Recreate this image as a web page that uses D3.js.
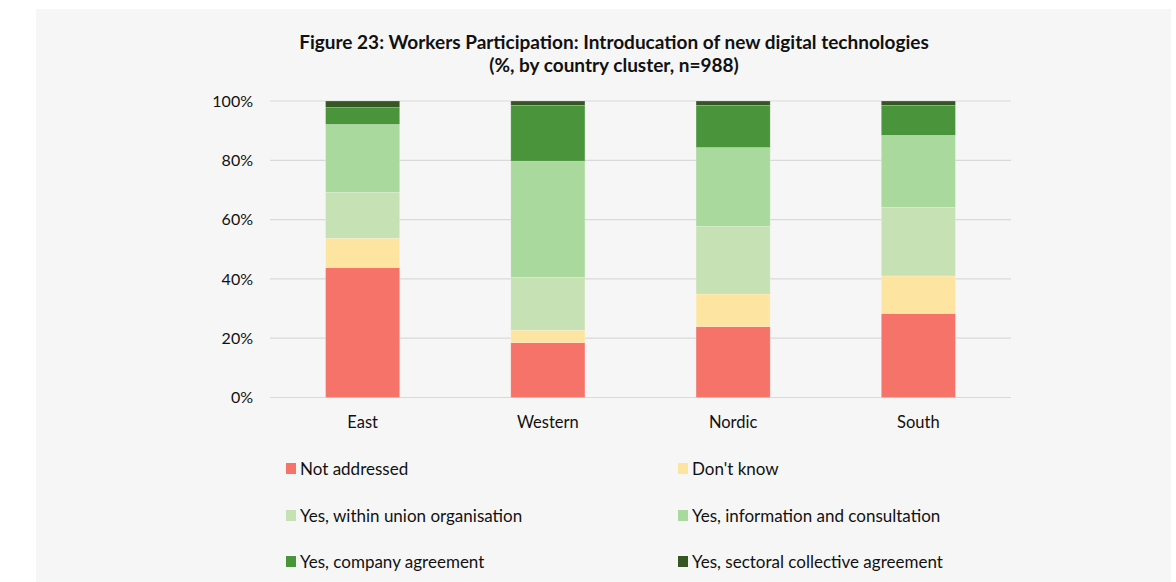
<!DOCTYPE html>
<html>
<head>
<meta charset="utf-8">
<script src="https://cdn.jsdelivr.net/npm/d3@7"></script>
<style>
  body { margin: 0; background: #ffffff; }
  svg { display: block; }
  text { font-family: Lato, "Open Sans", sans-serif; fill: #111111; }
</style>
</head>
<body>
<script>
'use strict';

// data (percent per cluster)
const clusters = ["East", "Western", "Nordic", "South"];
const answers = ["Not addressed", "Don't know", "Yes, within union organisation",
  "Yes, information and consultation", "Yes, company agreement", "Yes, sectoral collective agreement"];
const notAddressed = [43.8, 18.5, 23.9, 28.3];
const dontKnow = [9.9, 4.2, 11.0, 12.7];
const unionOrg = [15.5, 17.8, 22.8, 23.1];
const infoConsult = [22.9, 39.2, 26.6, 24.3];
const companyAgr = [5.7, 18.8, 14.2, 10.1];
const sectoralAgr = [2.2, 1.5, 1.5, 1.5];
const yTicks = [0, 20, 40, 60, 80, 100];
const colors = ["#f67369", "#fde5a1", "#c6e1b4", "#a9d99c", "#4a943c", "#365723"];

const series = [notAddressed, dontKnow, unionOrg, infoConsult, companyAgr, sectoralAgr];

// build rows for the stack layout
const rows = clusters.map((c, i) => {
  const row = { cluster: c };
  answers.forEach((a, j) => { row[a] = series[j][i]; });
  return row;
});

const width = 1176, height = 582;

const svg = d3.select('body')
  .append('svg')
  .attr('width', width)
  .attr('height', height);

// grey panel behind the chart
svg.append('rect')
  .attr('x', 36)
  .attr('y', 9)
  .attr('width', 1135)
  .attr('height', height - 9)
  .attr('fill', '#f6f6f6');

// title
svg.append('text')
  .attr('x', 614)
  .attr('y', 49)
  .attr('text-anchor', 'middle')
  .style('font-size', '19px')
  .style('font-weight', 'bold')
  .text('Figure 23: Workers Participation: Introducation of new digital technologies');

svg.append('text')
  .attr('x', 614)
  .attr('y', 72)
  .attr('text-anchor', 'middle')
  .style('font-size', '19px')
  .style('font-weight', 'bold')
  .text('(%, by country cluster, n=988)');

// scales
const xScale = d3.scaleBand()
  .domain(clusters)
  .range([270, 1011])
  .paddingInner(0.6)
  .paddingOuter(0.3);

const yScale = d3.scaleLinear()
  .domain([0, 100])
  .range([397.5, 101]);

// gridlines
svg.append('g')
  .selectAll('line')
  .data(yTicks)
  .enter()
  .append('line')
  .attr('x1', 270)
  .attr('x2', 1011)
  .attr('y1', d => yScale(d))
  .attr('y2', d => yScale(d))
  .attr('stroke', '#d9d9d9')
  .attr('stroke-width', 1.2);

// y axis labels
const yAxis = d3.axisLeft(yScale)
  .tickValues(yTicks)
  .tickFormat(d => d + '%')
  .tickSize(0)
  .tickPadding(0);

svg.append('g')
  .attr('transform', 'translate(253, 0)')
  .call(yAxis)
  .call(g => g.select('.domain').remove())
  .selectAll('text')
  .style('font-size', '16px')
  .style('font-family', 'Lato, sans-serif')
  .attr('fill', '#111111');

// x axis labels
const xAxis = d3.axisBottom(xScale).tickSize(0).tickPadding(0);

svg.append('g')
  .attr('transform', 'translate(0, 416)')
  .call(xAxis)
  .call(g => g.select('.domain').remove())
  .selectAll('text')
  .style('font-size', '16.5px')
  .style('font-family', 'Lato, sans-serif')
  .attr('fill', '#111111');

// stacked bars
const stacked = d3.stack().keys(answers)(rows);

svg.append('g')
  .selectAll('g')
  .data(stacked)
  .enter()
  .append('g')
  .attr('fill', (d, i) => colors[i])
  .selectAll('rect')
  .data(d => d)
  .enter()
  .append('rect')
  .attr('x', d => xScale(d.data.cluster))
  .attr('width', xScale.bandwidth())
  .attr('y', d => yScale(d[1]))
  .attr('height', d => yScale(d[0]) - yScale(d[1]))
  .attr('stroke', '#ffffff')
  .attr('stroke-opacity', 0.25)
  .attr('stroke-width', 0.8);

// legend, two columns by three rows
const legendX = [286, 678];
const legendY = [469, 516, 562];

const legend = svg.append('g')
  .selectAll('g')
  .data(answers)
  .enter()
  .append('g')
  .attr('transform', (d, i) => 'translate(' + legendX[i % 2] + ',' + legendY[Math.floor(i / 2)] + ')');

legend.append('rect')
  .attr('x', 0)
  .attr('y', -6)
  .attr('width', 10)
  .attr('height', 11)
  .attr('fill', (d, i) => colors[i]);

legend.append('text')
  .attr('x', 14)
  .attr('y', 6)
  .style('font-size', '17px')
  .text(d => d);
</script>
</body>
</html>
